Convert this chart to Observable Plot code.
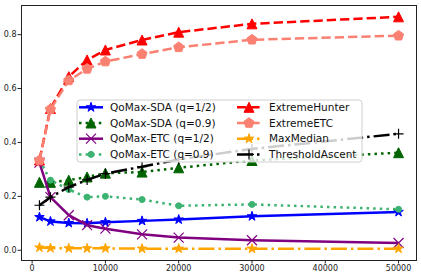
<!DOCTYPE html>
<html><head><meta charset="utf-8">
<script src="https://cdn.jsdelivr.net/npm/d3@7"></script>
<script src="https://cdn.jsdelivr.net/npm/@observablehq/plot@0.6"></script>
<style>
body{margin:0;background:#fff;}
#chart{width:421px;height:277px;}
</style></head><body><div id="chart"></div>
<script>
// ---- data ----
const budgets = [1000, 2500, 5000, 7500, 10000, 15000, 20000, 30000, 50000];
const qomaxSdaHalf = [0.123, 0.107, 0.101, 0.100, 0.104, 0.109, 0.114, 0.126, 0.142];
const qomaxSda09 = [0.252, 0.252, 0.260, 0.272, 0.286, 0.290, 0.306, 0.333, 0.362];
const qomaxEtcHalf = [0.325, 0.197, 0.130, 0.093, 0.080, 0.059, 0.047, 0.037, 0.027];
const qomaxEtc09 = [0.333, 0.260, 0.225, 0.197, 0.200, 0.188, 0.165, 0.170, 0.152];
const extremeHunter = [0.335, 0.526, 0.644, 0.706, 0.743, 0.780, 0.809, 0.840, 0.866];
const extremeETC = [0.333, 0.523, 0.630, 0.673, 0.700, 0.728, 0.753, 0.781, 0.796];
const maxMedian = [0.010, 0.008, 0.007, 0.007, 0.007, 0.006, 0.006, 0.006, 0.006];
const thresholdAscent = [0.167, 0.197, 0.234, 0.261, 0.284, 0.310, 0.337, 0.376, 0.432];
const seriesNames = ["QoMax-SDA (q=1/2)", "QoMax-SDA (q=0.9)", "QoMax-ETC (q=1/2)", "QoMax-ETC (q=0.9)",
                     "ExtremeHunter", "ExtremeETC", "MaxMedian", "ThresholdAscent"];
const seriesValues = [qomaxSdaHalf, qomaxSda09, qomaxEtcHalf, qomaxEtc09, extremeHunter, extremeETC, maxMedian, thresholdAscent];
const xTicks = [0, 10000, 20000, 30000, 40000, 50000];
const yTicks = [0, 0.2, 0.4, 0.6, 0.8];

// ---- marker shapes (size -> half-extent h) ----
function mk(fn){ return {draw(c, size){ fn(c, Math.sqrt(size/Math.PI)); }}; }
const triUp = mk((c,h)=>{ c.moveTo(0,-h); c.lineTo(h,h); c.lineTo(-h,h); c.closePath(); });
const star = mk((c,h)=>{ const ri = h*0.381966; for(let i=0;i<10;i++){ const a=-Math.PI/2+i*Math.PI/5; const r=i%2?ri:h; const x=r*Math.cos(a), y=r*Math.sin(a); i?c.lineTo(x,y):c.moveTo(x,y);} c.closePath(); });
const pent = mk((c,h)=>{ for(let i=0;i<5;i++){ const a=-Math.PI/2+i*2*Math.PI/5; const x=h*Math.cos(a), y=h*Math.sin(a); i?c.lineTo(x,y):c.moveTo(x,y);} c.closePath(); });
const circ = mk((c,h)=>{ c.moveTo(h,0); c.arc(0,0,h,0,2*Math.PI); });
const plus = mk((c,h)=>{ c.moveTo(-h,0); c.lineTo(h,0); c.moveTo(0,-h); c.lineTo(0,h); });
const times = mk((c,h)=>{ c.moveTo(-h,-h); c.lineTo(h,h); c.moveTo(-h,h); c.lineTo(h,-h); });

const styles = [
  {color:"blue", dash:null, sym:star, r:5, filled:true},
  {color:"darkgreen", dash:"2.5,4.1", sym:triUp, r:5, filled:true},
  {color:"purple", dash:null, sym:times, r:5, filled:false},
  {color:"mediumseagreen", dash:"2.5,4.1", sym:circ, r:3, filled:true},
  {color:"red", dash:"9.3,4", sym:triUp, r:5, filled:true},
  {color:"salmon", dash:"9.3,4", sym:pent, r:5.3, filled:true},
  {color:"orange", dash:"16,4,2.5,4", sym:star, r:5, filled:true},
  {color:"black", dash:"16,4,2.5,4", sym:plus, r:5, filled:false}
];
const lw = 2.5;

const marks = [];
seriesNames.forEach((name, k) => {
  const rows = budgets.map((b, i) => ({budget: b, value: seriesValues[k][i], series: name}));
  const s = styles[k];
  marks.push(Plot.line(rows, {x: "budget", y: "value", stroke: s.color, strokeWidth: lw,
    strokeDasharray: s.dash || undefined, strokeLinecap: "butt", strokeLinejoin: "round"}));
  marks.push(Plot.dot(rows, {x: "budget", y: "value", symbol: s.sym, r: s.r,
    fill: s.filled ? s.color : "none", stroke: s.color, strokeWidth: s.filled ? 1 : 1.2}));
});

const plot = Plot.plot({
  width: 421, height: 277,
  marginLeft: 21, marginRight: 5, marginTop: 5, marginBottom: 17,
  style: {fontFamily: "DejaVu Sans", fontSize: "8px", color: "#222", background: "#fff", overflow: "visible"},
  x: {domain: [-1450, 52450], label: null},
  y: {domain: [-0.038, 0.908], label: null},
  marks: [
    ...marks,
    Plot.frame({stroke: "#222", strokeWidth: 1}),
    Plot.axisX({ticks: xTicks, tickFormat: d => String(d), tickSize: 3.5, tickPadding: 1.5, label: null, fontSize: 8}),
    Plot.axisY({ticks: yTicks, tickFormat: d => d.toFixed(1), tickSize: 3.5, tickPadding: 1.5, label: null, fontSize: 8})
  ]
});
document.getElementById("chart").appendChild(plot);

// ---- legend (inside plot, upper middle) ----
const svg = d3.select(plot);
const lg = svg.append("g").attr("font-family", "DejaVu Sans").attr("font-size", 10.5).attr("text-anchor", "start");
lg.append("rect").attr("x", 77).attr("y", 100).attr("width", 285).attr("height", 62)
  .attr("rx", 3).attr("fill", "white").attr("fill-opacity", 0.8).attr("stroke", "#cfcfcf").attr("stroke-width", 1);
seriesNames.forEach((name, k) => {
  const s = styles[k];
  const col = Math.floor(k / 4), row = k % 4;
  const x0 = col ? 237 : 79, x1 = col ? 261 : 103, tx = col ? 269 : 110;
  const y = 107.3 + row * 15.7;
  const g = lg.append("g");
  g.append("line").attr("x1", x0).attr("x2", x1).attr("y1", y).attr("y2", y)
    .attr("stroke", s.color).attr("stroke-width", lw).attr("stroke-dasharray", s.dash || null);
  const p = d3.path(); s.sym.draw(p, Math.PI * s.r * s.r);
  g.append("path").attr("d", p.toString()).attr("transform", `translate(${(x0 + x1) / 2},${y})`)
    .attr("fill", s.filled ? s.color : "none").attr("stroke", s.color).attr("stroke-width", s.filled ? 1 : 1.2);
  g.append("text").attr("x", tx).attr("y", y).attr("dy", "0.36em").attr("text-anchor", "start")
    .attr("fill", "#111").text(name);
});
</script></body></html>
